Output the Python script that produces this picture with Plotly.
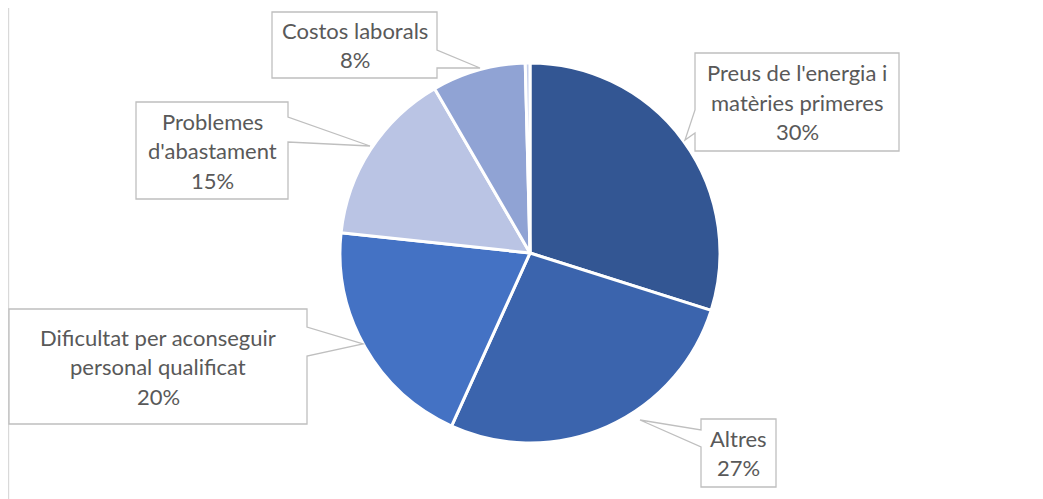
import plotly.graph_objects as go

# ---- data ----
labels = ["Preus de l'energia i matèries primeres", "Altres",
          "Dificultat per aconseguir personal qualificat",
          "Problemes d'abastament", "Costos laborals", ""]
values = [30, 27, 20, 15, 8, 0.4]
colors = ["#335693", "#3B64AD", "#4472C4", "#BAC4E4", "#90A3D4", "#C6D0EC"]
label_lines = [["Preus de l'energia i", "matèries primeres"],
               ["Altres"],
               ["Dificultat per aconseguir", "personal qualificat"],
               ["Problemes", "d'abastament"],
               ["Costos laborals"],
               []]

W, H = 1043, 499
OFF = 8  # page body margin: coordinates below are page pixels
total = sum(values)
pcts = [f"{round(v / total * 100)}%" for v in values]

# ---- layout of callouts (page pixels): box (x0, y0, x1, y1), edge, wedge base points, tip ----
callouts = {
    0: dict(box=(695, 53, 899, 151), edge="left", base=(110, 133), tip=(685, 140)),
    1: dict(box=(701, 419, 776, 487), edge="left", base=(430, 447), tip=(640, 420)),
    2: dict(box=(9, 309, 307, 424), edge="right", base=(327, 356), tip=(363, 344)),
    3: dict(box=(136, 102, 288, 199), edge="right", base=(117, 142), tip=(370, 146)),
    4: dict(box=(272, 12, 437, 78), edge="right", base=(50, 68), tip=(480, 68)),
}

fig = go.Figure()
cx, cy, r = 530 - OFF, 253 - OFF, 190
fig.add_trace(go.Pie(
    labels=labels, values=values, sort=False, direction="clockwise", rotation=0,
    marker=dict(colors=colors, line=dict(color="white", width=3)),
    textinfo="none", hoverinfo="label+percent", showlegend=False,
    domain=dict(x=[(cx - 300) / W, (cx + 300) / W], y=[1 - (cy + r) / H, 1 - (cy - r) / H]),
))

shapes = [dict(type="line", xref="x", yref="y", x0=8.6, x1=8.6, y0=0, y1=H + OFF,
               line=dict(color="#D9D9D9", width=1.2))]
annotations = []
line_h = 29.5
for i, c in callouts.items():
    x0, y0, x1, y1 = c["box"]
    b1, b2 = c["base"]
    tx, ty = c["tip"]
    if c["edge"] == "right":
        pts = [(x0, y0), (x1, y0), (x1, b1), (tx, ty), (x1, b2), (x1, y1), (x0, y1)]
    else:
        pts = [(x0, y0), (x1, y0), (x1, y1), (x0, y1), (x0, b2), (tx, ty), (x0, b1)]
    path = "M " + " L ".join(f"{px},{py}" for px, py in pts) + " Z"
    shapes.append(dict(type="path", xref="x", yref="y", path=path,
                       fillcolor="white", line=dict(color="#BFBFBF", width=1.3)))
    lines = label_lines[i] + [pcts[i]]
    mx, my = (x0 + x1) / 2, (y0 + y1) / 2
    n = len(lines)
    for k, t in enumerate(lines):
        annotations.append(dict(x=mx, y=my + (k - (n - 1) / 2) * line_h, xref="x", yref="y",
                                text=t, showarrow=False,
                                font=dict(family="Lato", size=22, color="#595959")))

fig.update_layout(
    width=W, height=H, margin=dict(l=0, r=0, t=0, b=0),
    paper_bgcolor="white", plot_bgcolor="white",
    xaxis=dict(range=[OFF, W + OFF], visible=False, fixedrange=True),
    yaxis=dict(range=[H + OFF, OFF], visible=False, fixedrange=True),
    shapes=shapes, annotations=annotations,
)
fig.write_html("out.html")
